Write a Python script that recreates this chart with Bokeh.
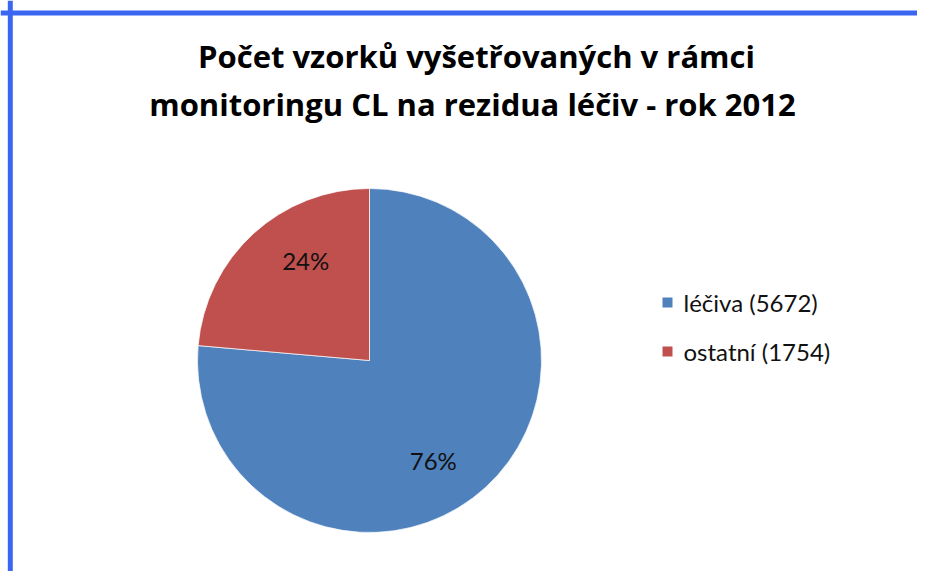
import math
from bokeh.plotting import figure
from bokeh.models import Range1d, Span, ColumnDataSource
from bokeh.core.properties import value
from bokeh.embed import file_html
from bokeh.resources import INLINE

# ---- data ----
title_lines = ["Počet vzorků vyšetřovaných v rámci",
               "monitoringu  CL na rezidua léčiv - rok 2012"]
categories = ["léčiva", "ostatní"]
counts = [5672, 1754]
colors = ["#4F81BD", "#C0504D"]

# ---- layout (data coords == picture pixel coords, y negated) ----
W, H = 917, 571
OX, OY = 0, 0
FONT = "Lato"
TITLE_FONT = "Open Sans"

p = figure(width=W, height=H,
           x_range=Range1d(OX, OX + W), y_range=Range1d(-(OY + H), -OY),
           output_backend="svg", toolbar_location=None,
           x_axis_type=None, y_axis_type=None, min_border=0,
           background_fill_color="white", border_fill_color="white",
           outline_line_color=None)

# frame border (top & left visible)
p.add_layout(Span(location=-12.5, dimension="width", line_color="#3A66F2", line_width=5))
p.add_layout(Span(location=9.8, dimension="height", line_color="#3A66F2", line_width=5))

# title
TITLE_X = 476
TITLE_BASE = [55, 103]
p.text(x=[TITLE_X] * len(title_lines), y=[-b for b in TITLE_BASE], text=title_lines,
       text_font=value(TITLE_FONT), text_font_style="bold", text_font_size="31px",
       text_color="#000000", text_align="center", text_baseline="alphabetic")

# pie
CX, CY, R = 369, 360, 172
total = sum(counts)
fracs = [c / total for c in counts]
starts, ends = [], []
acc = 0.0
for f in fracs:
    starts.append(math.pi / 2 - 2 * math.pi * acc)
    acc += f
    ends.append(math.pi / 2 - 2 * math.pi * acc)

src = ColumnDataSource(dict(start=starts, end=ends, color=colors))
p.wedge(x=CX, y=-CY, radius=R, start_angle="start", end_angle="end",
        direction="clock", fill_color="color", line_color="white", line_width=0.7,
        source=src)

# data labels
LABEL_R = 0.69 * R
LABEL_SHIFT = -math.radians(10)
lx, ly, lt = [], [], []
for s, e, f in zip(starts, ends, fracs):
    m = (s + e) / 2 + LABEL_SHIFT
    lx.append(CX + LABEL_R * math.cos(m))
    ly.append(-CY + LABEL_R * math.sin(m))
    lt.append(f"{round(100 * f)}%")
p.text(x=lx, y=ly, text=lt, text_font=value(FONT), text_font_size="24px",
       text_color="#111111", text_align="center", text_baseline="middle")

# legend
LEG_SQ_X, LEG_TX, LEG_Y0, LEG_DY = 667, 683, 302, 49
leg_y = [-(LEG_Y0 + i * LEG_DY) for i in range(len(categories))]
p.scatter(x=[LEG_SQ_X] * len(categories), y=leg_y, marker="square", size=10,
          fill_color=colors, line_color=None)
p.text(x=[LEG_TX] * len(categories), y=leg_y,
       text=[f"{c} ({n})" for c, n in zip(categories, counts)],
       text_font=value(FONT), text_font_size="24px", text_color="#111111",
       text_align="left", text_baseline="middle")

open("out.html", "w").write(file_html(p, INLINE))
